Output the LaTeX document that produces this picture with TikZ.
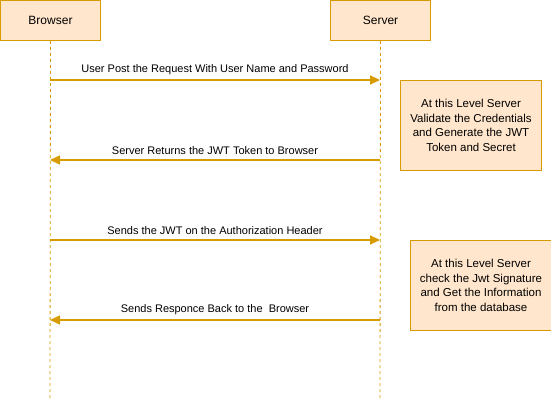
\documentclass[tikz,border=0pt]{standalone}
\usepackage{fontspec}
\setmainfont{Liberation Sans}
\usetikzlibrary{arrows.meta}
\definecolor{boxfill}{HTML}{FFE6CC}
\definecolor{boxline}{HTML}{D79B00}
\begin{document}
\begin{tikzpicture}[x=1pt,y=-1pt,
  actor/.style={draw=boxline,fill=boxfill,line width=1pt,minimum width=100pt,minimum height=40pt,inner sep=0pt,anchor=north west,font=\fontsize{12}{14}\selectfont},
  notebox/.style={draw=boxline,fill=boxfill,line width=1pt,minimum width=141pt,minimum height=90pt,inner sep=0pt,anchor=north west,align=center,font=\fontsize{11.5}{14.5}\selectfont},
  life/.style={draw=boxline,line width=0.8pt,dash pattern=on 3pt off 3pt},
  msg/.style={draw=boxline,line width=1.5pt,-{Triangle[length=10pt,width=9pt]}},
  lbl/.style={font=\fontsize{11}{13}\selectfont,above=1pt,midway}]
\useasboundingbox (0,0) rectangle (551,401);
\node[actor] (browser) at (0,0) {Browser};
\node[actor] (server) at (330,0) {Server};
\coordinate (bend) at (50,401);
\coordinate (send) at (380,401);
\draw[life] (browser.south) -- (bend);
\draw[life] (server.south) -- (send);
\coordinate (b1) at (50,80); \coordinate (s1) at (380,80);
\coordinate (b2) at (50,160); \coordinate (s2) at (380,160);
\coordinate (b3) at (50,240); \coordinate (s3) at (380,240);
\coordinate (b4) at (50,320); \coordinate (s4) at (380,320);
\draw[msg] (b1) -- node[lbl] {User Post the Request With User Name and Password} (s1);
\draw[msg] (s2) -- node[lbl] {Server Returns the JWT Token to Browser} (b2);
\draw[msg] (b3) -- node[lbl] {Sends the JWT on the Authorization Header} (s3);
\draw[msg] (s4) -- node[lbl] {Sends Responce Back to the\ \ Browser} (b4);
\node[notebox] (note1) at (400,80) {At this Level Server\\Validate the Credentials\\and Generate the JWT\\Token and Secret};
\node[notebox] (note2) at (410,240) {At this Level Server\\check the Jwt Signature\\and Get the Information\\from the database};
\end{tikzpicture}
\end{document}
